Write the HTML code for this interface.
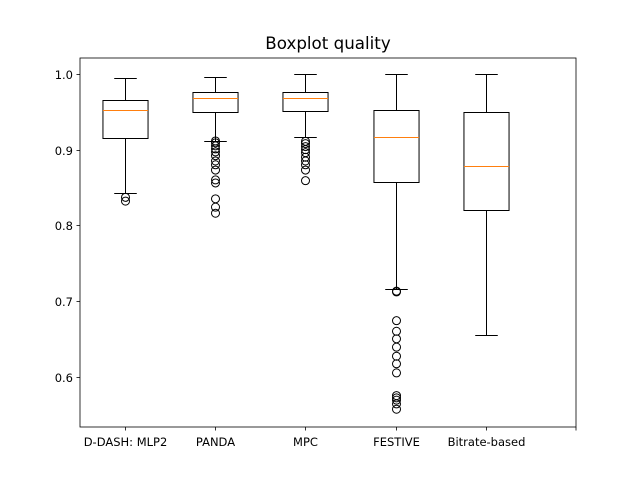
<!DOCTYPE html>
<html><head><meta charset="utf-8"><style>body{margin:0;background:#fff}svg{display:block}text{font-family:"DejaVu Sans","Liberation Sans",sans-serif}</style></head>
<body>
<svg id="chart" width="640" height="480"></svg>
<script>
const categories=["D-DASH: MLP2","PANDA","MPC","FESTIVE","Bitrate-based"];
const whiskerHigh=[0.995,0.996,1.0,1.0,1.0];
const q3=[0.966,0.976,0.976,0.952,0.950];
const medians=[0.952,0.968,0.968,0.917,0.879];
const q1=[0.915,0.950,0.951,0.857,0.820];
const whiskerLow=[0.843,0.911,0.917,0.716,0.655];
const outliers=[[0.837,0.832],[0.9115,0.909,0.905,0.901,0.897,0.892,0.885,0.880,0.873,0.860,0.856,0.835,0.824,0.816],[0.911,0.908,0.904,0.900,0.896,0.890,0.885,0.880,0.873,0.859],[0.713,0.712,0.674,0.660,0.650,0.639,0.627,0.617,0.605,0.575,0.572,0.569,0.564,0.557],[]];
const yTicks=[0.6,0.7,0.8,0.9,1.0];
const NS="http://www.w3.org/2000/svg";
const svg=document.getElementById("chart");
const L=80,R=576,T=58,B=427;
const xMin=0.5,xMax=6,yMin=0.5335,yMax=1.0211;
const X=v=>L+(v-xMin)/(xMax-xMin)*(R-L);
const Y=v=>B-(v-yMin)/(yMax-yMin)*(B-T);
const P=v=>Math.round(v)+0.5;
function mk(tag,attrs,parent){const e=document.createElementNS(NS,tag);for(const k in attrs)e.setAttribute(k,attrs[k]);(parent||svg).appendChild(e);return e;}
const title=mk("text",{x:328,y:49,"text-anchor":"middle","font-size":"16.7"});title.textContent="Boxplot quality";


yTicks.forEach(t=>{const y=P(Y(t));const tk=mk("line",{x1:L-3.5,x2:L,y1:y,y2:y,stroke:"#000","stroke-width":0.8});


const tx=mk("text",{x:L-7,y:y+4.5,"text-anchor":"end","font-size":"11.5"});tx.textContent=t.toFixed(1);

});
const hw=0.25*(R-L)/(xMax-xMin),cw=hw/2;
categories.forEach((c,i)=>{const cx=P(X(i+1));
const g=mk("g",{});


const s={stroke:"#000","stroke-width":1,fill:"none"};
mk("line",Object.assign({x1:cx,x2:cx,y1:P(Y(whiskerHigh[i])),y2:P(Y(q3[i]))},s),g);
mk("line",Object.assign({x1:cx,x2:cx,y1:P(Y(q1[i])),y2:P(Y(whiskerLow[i]))},s),g);
mk("line",Object.assign({x1:cx-cw,x2:cx+cw,y1:P(Y(whiskerHigh[i])),y2:P(Y(whiskerHigh[i]))},s),g);
mk("line",Object.assign({x1:cx-cw,x2:cx+cw,y1:P(Y(whiskerLow[i])),y2:P(Y(whiskerLow[i]))},s),g);
mk("rect",Object.assign({x:cx-hw,y:P(Y(q3[i])),width:2*hw,height:P(Y(q1[i]))-P(Y(q3[i]))},s),g);
mk("line",{x1:cx-hw,x2:cx+hw,y1:P(Y(medians[i])),y2:P(Y(medians[i])),stroke:"#ff7f0e","stroke-width":1},g);
outliers[i].forEach(v=>{const o=mk("circle",{cx:cx,cy:Y(v),r:4,fill:"none",stroke:"#000","stroke-width":1},g);

});
const tk=mk("line",{x1:cx,x2:cx,y1:B,y2:B+3.5,stroke:"#000","stroke-width":0.8});


const tx=mk("text",{x:cx,y:B+19,"text-anchor":"middle","font-size":"11.5"});tx.textContent=c;

});
const lt=mk("line",{x1:R,x2:R,y1:B,y2:B+3.5,stroke:"#000","stroke-width":0.8});


const frame=mk("rect",{x:L,y:T,width:R-L,height:B-T,fill:"none",stroke:"#000","stroke-width":0.8});


</script>
</body></html>
